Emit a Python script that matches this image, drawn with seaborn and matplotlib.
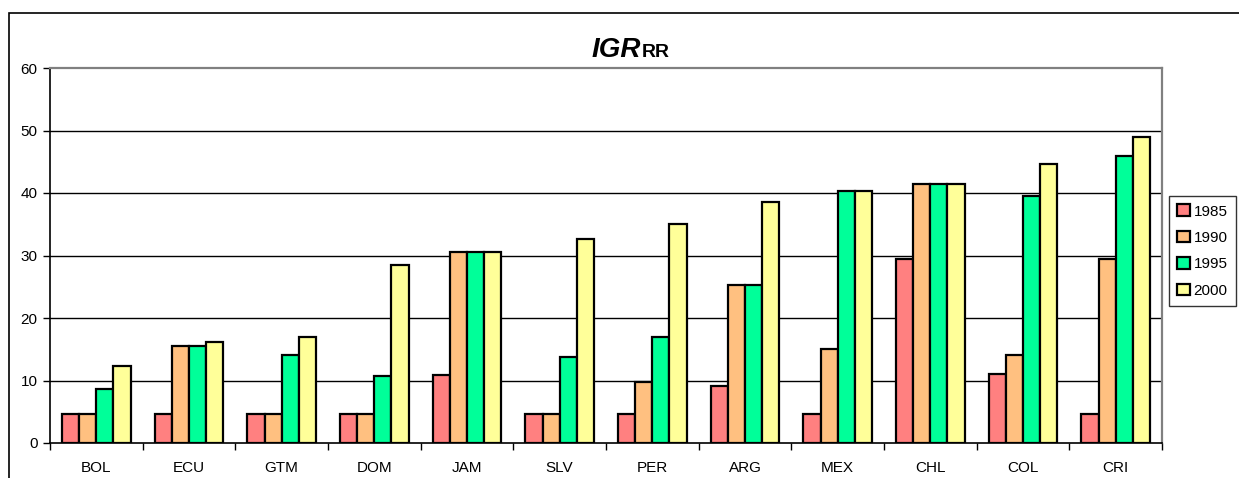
import pandas as pd
import matplotlib.pyplot as plt
import matplotlib.patches as mpatches
import seaborn as sn

# values
countries = ['BOL', 'ECU', 'GTM', 'DOM', 'JAM', 'SLV', 'PER', 'ARG', 'MEX', 'CHL', 'COL', 'CRI']
years = ['1985', '1990', '1995', '2000']
v1985 = [4.6, 4.6, 4.6, 4.6, 10.9, 4.6, 4.6, 9.1, 4.6, 29.4, 11.1, 4.6]
v1990 = [4.6, 15.6, 4.6, 4.6, 30.5, 4.6, 9.7, 25.3, 15.0, 41.5, 14.1, 29.4]
v1995 = [8.6, 15.6, 14.1, 10.8, 30.5, 13.8, 17.0, 25.3, 40.4, 41.5, 39.5, 46.0]
v2000 = [12.4, 16.1, 17.0, 28.5, 30.5, 32.6, 35.0, 38.6, 40.4, 41.5, 44.6, 48.9]
colors = ['#FF8080', '#FFC080', '#00FF99', '#FFFF99']

rows = []
for yr, vals in zip(years, [v1985, v1990, v1995, v2000]):
    for c, v in zip(countries, vals):
        rows.append({'country': c, 'year': yr, 'value': v})
data = pd.DataFrame(rows)

sn.set_style('white')
plt.rcParams['font.family'] = ['Liberation Sans', 'DejaVu Sans']
plt.rcParams['text.color'] = 'black'
plt.rcParams['xtick.color'] = 'black'
plt.rcParams['ytick.color'] = 'black'

fig = plt.figure(figsize=(12.39, 4.78), dpi=100)
ax = fig.add_axes([50 / 1239, 1 - 443 / 478, 1112 / 1239, 375 / 478])

sn.barplot(data=data, x='country', y='value', hue='year', order=countries,
           hue_order=years, palette=colors, width=0.74, edgecolor='black',
           linewidth=1.6, saturation=1, ax=ax)

ax.set_ylim(0, 60)
ax.set_xlim(-0.5, len(countries) - 0.5)
ax.set_yticks(range(0, 61, 10))
ax.set_xlabel('')
ax.set_ylabel('')
for y in range(10, 60, 10):
    ax.axhline(y, color='black', lw=1.0, zorder=0)

for s in ['left', 'bottom']:
    ax.spines[s].set_color('black')
    ax.spines[s].set_linewidth(1.2)
for s in ['top', 'right']:
    ax.spines[s].set_color('#808080')
    ax.spines[s].set_linewidth(1.6)

ax.tick_params(axis='y', which='major', left=True, length=5, width=1, labelsize=11, pad=4)
ax.tick_params(axis='x', which='major', bottom=False, length=0, labelsize=11, pad=13)
ax.set_xticks([i + 0.5 for i in range(-1, len(countries))], minor=True)
ax.tick_params(axis='x', which='minor', bottom=True, length=5, width=1)

leg = ax.legend(loc='upper left', bbox_to_anchor=(1169 / 1239, 1 - 196 / 478),
                bbox_transform=fig.transFigure, frameon=True, fancybox=False,
                edgecolor='black', fontsize=11, handlelength=0.8, handleheight=0.8,
                handletextpad=0.25, labelspacing=0.8, borderpad=0.55, borderaxespad=0)
leg.get_frame().set_linewidth(1.0)
for h in leg.legend_handles:
    h.set_linewidth(1.6)

fig.text(641 / 1239, 1 - 57 / 478, 'IGR', ha='right', va='baseline',
         fontsize=20, fontweight='bold', fontstyle='italic')
fig.text(642 / 1239, 1 - 57 / 478, 'RR', ha='left', va='baseline',
         fontsize=14, fontweight='bold')

fig.patches.append(mpatches.Rectangle((9 / 1239, -0.1), 1.2, 1.1 - 13 / 478,
                                      transform=fig.transFigure, fill=False,
                                      edgecolor='black', lw=1.2))

fig.savefig('out.png', dpi=100)
